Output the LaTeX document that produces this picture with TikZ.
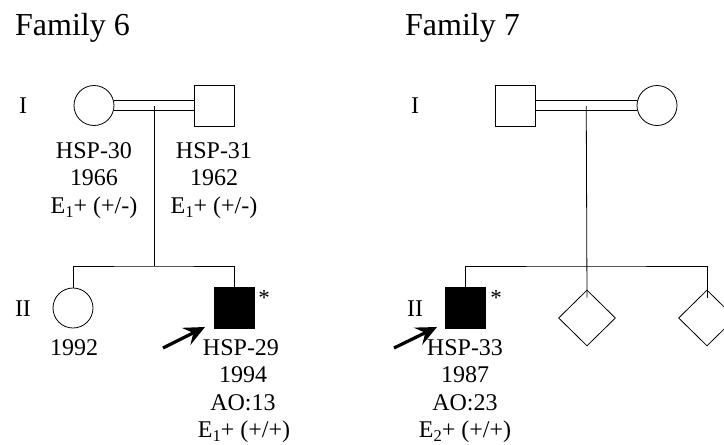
\documentclass[tikz,border=0pt]{standalone}
\usepackage{fontspec}
\setmainfont{Liberation Serif}
\usetikzlibrary{shapes.geometric,arrows.meta,calc}
\newcommand{\sbs}[1]{\raisebox{-4.5pt}{\fontsize{16.5}{17}\selectfont #1}}
\begin{document}
\begin{tikzpicture}[x=1pt,y=-1pt,
 ped/.style={draw=black, line width=0.8pt},
 fem/.style={circle,draw,line width=0.8pt,minimum size=40pt,inner sep=0pt},
 mal/.style={rectangle,draw,line width=0.8pt,minimum width=40pt,minimum height=41pt,inner sep=0pt},
 aff/.style={mal,fill=black},
 unk/.style={diamond,draw,line width=0.8pt,minimum width=57pt,minimum height=56pt,inner sep=0pt},
 lbl/.style={anchor=base,inner sep=0pt,font=\fontsize{24}{27}\selectfont},
 ttl/.style={anchor=base west,inner sep=0pt,font=\fontsize{32}{36}\selectfont},
 star/.style={anchor=base,inner sep=0pt,font=\fontsize{23}{25}\selectfont},
 proband/.style={line width=3.2pt,-{Stealth[length=21pt,width=19pt,inset=8pt]}}
]
\useasboundingbox (0,0) rectangle (724,445);
% ---------------- Family 6
\node[ttl] (t6) at (15,35) {Family 6};
\node[lbl] (g6a) at (23,113) {I};
\node[lbl] (g6b) at (23,316) {II};
\node[fem] (p30) at (94,105.5) {};
\node[mal] (p31) at (214,105.5) {};
\draw[ped] ($(p30.east)+(-0.6,-5)$) -- ($(p31.west)+(0,-5)$);
\draw[ped] ($(p30.east)+(-0.6,5)$) -- ($(p31.west)+(0,5)$);
\coordinate (m6) at ($(p30.east)!0.5!(p31.west)+(0,0.5)$);
\coordinate (s6) at (154,266);
\draw[ped] (m6) -- (s6);
\node[fem] (c6a) at (73,308) {};
\node[aff] (p29) at (234.5,308) {};
\draw[ped] (c6a.north) |- (s6) -| (p29.north);
\node[lbl] (l30a) at (94,158) {HSP-30};
\node[lbl] (l30b) at (94,185.5) {1966};
\node[lbl] (l30c) at (94,213) {E\sbs{1}+ (+/-)};
\node[lbl] (l31a) at (214,158) {HSP-31};
\node[lbl] (l31b) at (214,185.5) {1962};
\node[lbl] (l31c) at (214,213) {E\sbs{1}+ (+/-)};
\node[lbl] (l1992) at (74,355) {1992};
\node[lbl] (l29a) at (241,355) {HSP-29};
\node[lbl] (l29b) at (243,382.5) {1994};
\node[lbl] (l29c) at (243,410) {AO:13};
\node[lbl] (l29d) at (244,437) {E\sbs{1}+ (+/+)};
\node[star] (a29) at (264,305) {*};
\coordinate (ar6a) at (163,348);
\coordinate (ar6b) at (205,327);
\draw[proband] (ar6a) -- (ar6b);
% ---------------- Family 7
\node[ttl] (t7) at (405,35) {Family 7};
\node[lbl] (g7a) at (415,113) {I};
\node[lbl] (g7b) at (415,316) {II};
\node[mal] (p7f) at (515.5,105.5) {};
\node[fem] (p7m) at (657,105.5) {};
\draw[ped] ($(p7f.east)+(0,-5)$) -- ($(p7m.west)+(0.6,-5)$);
\draw[ped] ($(p7f.east)+(0,5)$) -- ($(p7m.west)+(0.6,5)$);
\node[aff] (p33) at (465.5,308) {};
\node[unk] (d1) at (587,318) {};
\node[unk] (d2) at (707,318) {};
\coordinate (m7) at ($(p7f.east)!0.5!(p7m.west)+(0,0.5)$);
\coordinate (s7) at (m7 |- 0,266);
\draw[ped] (m7) -- ($(d1.north)+(0,8)$);
\draw[ped] (p33.north) |- (s7) -| ($(d2.north)+(0,8)$);
\node[lbl] (l33a) at (465,355) {HSP-33};
\node[lbl] (l33b) at (465,382.5) {1987};
\node[lbl] (l33c) at (465,410) {AO:23};
\node[lbl] (l33d) at (465,437) {E\sbs{2}+ (+/+)};
\node[star] (a33) at (496,305) {*};
\coordinate (ar7a) at (394,348);
\coordinate (ar7b) at (437,327);
\draw[proband] (ar7a) -- (ar7b);
\end{tikzpicture}
\end{document}
